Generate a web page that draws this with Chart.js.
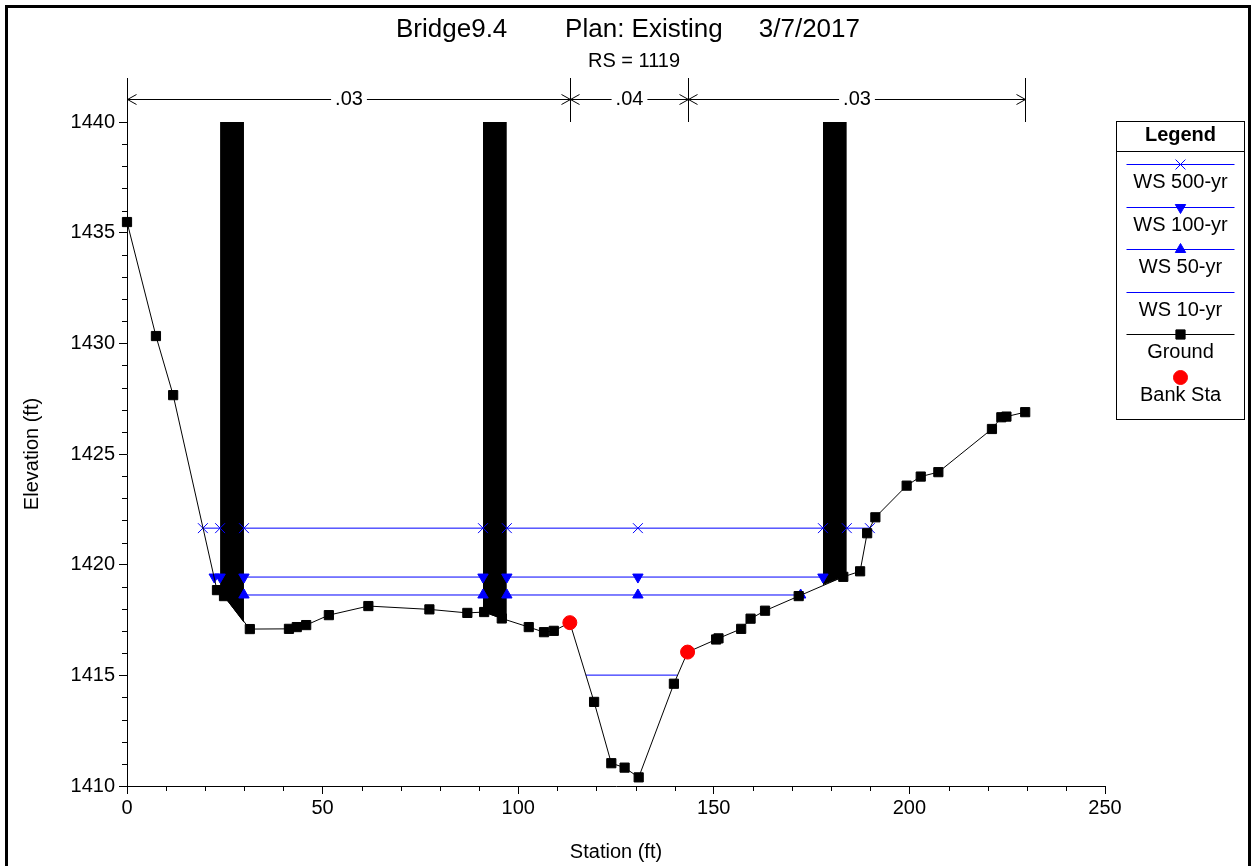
<!DOCTYPE html>
<html>
<head>
<meta charset="utf-8">
<title>Bridge9.4 - RS 1119</title>
<script src="https://cdn.jsdelivr.net/npm/chart.js@4.4.1/dist/chart.umd.min.js"></script>
<style>
  html, body { margin: 0; padding: 0; background: #fff; }
  #wrap { position: relative; width: 1255px; height: 866px; }
</style>
</head>
<body>
<div id="wrap"><canvas id="xsChart"></canvas></div>
<script>
// cross section data (station ft / elevation ft)
const groundSta = [0, 7.4, 11.8, 23.0, 24.8, 31.4, 41.4, 43.4, 45.8, 51.6, 61.7, 77.3, 87.0, 91.3, 95.8,
  102.7, 106.6, 109.1, 113.2, 119.4, 123.8, 127.2, 130.8, 139.8, 143.3, 150.6, 151.2, 157.0, 159.4,
  163.1, 171.7, 183.1, 187.4, 189.2, 191.3, 199.3, 202.9, 207.4, 221.1, 223.5, 224.8, 229.6];
const groundElev = [1435.48, 1430.33, 1427.66, 1418.85, 1418.58, 1417.09, 1417.10, 1417.18, 1417.27, 1417.72,
  1418.13, 1417.98, 1417.82, 1417.86, 1417.57, 1417.18, 1416.95, 1417.01, 1417.38, 1413.80, 1411.03,
  1410.83, 1410.39, 1414.62, 1416.05, 1416.62, 1416.67, 1417.10, 1417.56, 1417.92, 1418.58, 1419.45,
  1419.70, 1421.42, 1422.14, 1423.57, 1423.98, 1424.18, 1426.13, 1426.66, 1426.69, 1426.89];

const bankSta = [113.2, 143.3];
const bankElev = [1417.38, 1416.05];

// water surfaces (null = hidden behind a pier)
const ws500Sta = [19.4, 23.8, 26.8, 29.9, 91.0, 94.0, 97.1, 130.6, 177.9, 181.0, 184.0, 189.9];
const ws500Elev = [1421.65, 1421.65, null, 1421.65, 1421.65, null, 1421.65, 1421.65, 1421.65, null, 1421.65, 1421.65];
const ws100Sta = [22.3, 23.8, 26.8, 29.9, 91.0, 94.0, 97.1, 130.6, 177.9];
const ws100Elev = [1419.44, 1419.44, null, 1419.44, 1419.44, null, 1419.44, 1419.44, 1419.44];
const ws50Sta = [29.9, 91.0, 94.0, 97.1, 130.6, 172.2];
const ws50Elev = [1418.63, 1418.63, null, 1418.63, 1418.63, 1418.63];
const ws10Sta = [117.3, 140.75];
const ws10Elev = [1415.01, 1415.01];

// bridge piers: bottom edge, filled up to the deck
const pierTop = 1440;
const pier1Sta = [23.8, 24.8, 29.9];
const pier1Elev = [1418.73, 1418.58, 1417.40];
const pier2Sta = [91.0, 91.3, 95.8, 97.1];
const pier2Elev = [1417.84, 1417.86, 1417.57, 1417.50];
const pier3Sta = [177.9, 183.1, 184.0];
const pier3Elev = [1419.10, 1419.45, 1419.50];

// Manning's n
const nBreaks = [0, 113.2, 143.3, 229.6];
const nValues = ['.03', '.04', '.03'];

const titleText = 'Bridge9.4        Plan: Existing     3/7/2017';
const subTitle = 'RS = 1119';

const FONT = '"Liberation Sans", Arial, sans-serif';
Chart.defaults.font.family = FONT;
Chart.defaults.font.size = 20;
Chart.defaults.color = '#000';

const pts = (xs, ys) => xs.map((x, i) => ({ x: x, y: ys[i] }));
const BLUE = '#0000ff';

function wsSet(label, xs, ys, style, radius, rotation) {
  return {
    label: label, data: pts(xs, ys), showLine: true, order: 2, clip: false,
    borderColor: BLUE, borderWidth: 1, pointStyle: style, pointRadius: radius, rotation: rotation,
    pointBackgroundColor: BLUE, pointBorderColor: BLUE, pointBorderWidth: 1
  };
}
function pierSet(xs, ys) {
  return {
    data: pts(xs, ys), showLine: true, order: 3, borderColor: '#000', backgroundColor: '#000',
    borderWidth: 1, pointRadius: 0, fill: { value: pierTop }
  };
}

const datasets = [
  wsSet('WS 500-yr', ws500Sta, ws500Elev, 'crossRot', 7, 0),
  wsSet('WS 100-yr', ws100Sta, ws100Elev, 'triangle', 6, 180),
  wsSet('WS 50-yr', ws50Sta, ws50Elev, 'triangle', 6, 0),
  wsSet('WS 10-yr', ws10Sta, ws10Elev, 'circle', 0, 0),
  {
    label: 'Ground', data: pts(groundSta, groundElev), showLine: true, order: 1, clip: false,
    borderColor: '#000', borderWidth: 1, pointStyle: 'rect', pointRadius: 6.5,
    pointBackgroundColor: '#000', pointBorderColor: '#000'
  },
  {
    label: 'Bank Sta', data: pts(bankSta, bankElev), showLine: false, order: 0, clip: false,
    pointStyle: 'circle', pointRadius: 7, pointBackgroundColor: '#ff0000', pointBorderColor: '#ff0000'
  },
  pierSet(pier1Sta, pier1Elev),
  pierSet(pier2Sta, pier2Elev),
  pierSet(pier3Sta, pier3Elev)
];

const decor = {
  id: 'decor',
  afterDraw(chart) {
    const { ctx, chartArea } = chart;
    const x = chart.scales.x, y = chart.scales.y;
    ctx.save();
    ctx.strokeStyle = '#000';
    ctx.fillStyle = '#000';

    // page frame
    ctx.lineWidth = 3;
    ctx.strokeRect(6.5, 6.5, 1243, 900);

    // titles
    ctx.textAlign = 'center';
    ctx.textBaseline = 'middle';
    ctx.font = '26px ' + FONT;
    ctx.fillText(titleText, 628, 30);
    ctx.font = '20px ' + FONT;
    ctx.fillText(subTitle, 634, 61);

    // minor ticks
    ctx.lineWidth = 1;
    ctx.beginPath();
    for (let v = 0; v <= 250; v += 10) {
      if (v % 50 === 0) continue;
      const px = Math.round(x.getPixelForValue(v)) + 0.5;
      ctx.moveTo(px, chartArea.bottom);
      ctx.lineTo(px, chartArea.bottom + 5);
    }
    for (let v = 1410; v <= 1440; v++) {
      if (v % 5 === 0) continue;
      const py = Math.round(y.getPixelForValue(v)) + 0.5;
      ctx.moveTo(chartArea.left - 5, py);
      ctx.lineTo(chartArea.left, py);
    }
    ctx.stroke();

    // n value bars with arrows
    const ay = Math.round(chartArea.top - 23) + 0.5;
    ctx.beginPath();
    nBreaks.forEach(s => {
      const px = Math.round(x.getPixelForValue(s)) + 0.5;
      ctx.moveTo(px, chartArea.top - 44);
      ctx.lineTo(px, chartArea.top);
    });
    for (let i = 0; i < nValues.length; i++) {
      const a = Math.round(x.getPixelForValue(nBreaks[i])) + 0.5;
      const b = Math.round(x.getPixelForValue(nBreaks[i + 1])) + 0.5;
      const mid = (a + b) / 2;
      const half = ctx.measureText(nValues[i]).width / 2 + 4;
      ctx.moveTo(a, ay); ctx.lineTo(mid - half, ay);
      ctx.moveTo(mid + half, ay); ctx.lineTo(b, ay);
      ctx.moveTo(a + 9, ay - 5); ctx.lineTo(a, ay); ctx.lineTo(a + 9, ay + 5);
      ctx.moveTo(b - 9, ay - 5); ctx.lineTo(b, ay); ctx.lineTo(b - 9, ay + 5);
      ctx.fillText(nValues[i], mid, ay);
    }
    ctx.stroke();

    // legend box
    const lx = 1116.5, ly = 121.5, lw = 128, lh = 298, cx = lx + lw / 2;
    ctx.strokeRect(lx, ly, lw, lh);
    ctx.beginPath();
    ctx.moveTo(lx, 151.5); ctx.lineTo(lx + lw, 151.5);
    ctx.stroke();
    ctx.font = 'bold 20px ' + FONT;
    ctx.fillText('Legend', cx, 135);
    ctx.font = '20px ' + FONT;
    const items = chart.data.datasets.filter(d => d.label);
    items.forEach((d, i) => {
      const iy = Math.round(164 + i * 42.6) + 0.5;
      if (d.showLine) {
        ctx.strokeStyle = d.borderColor;
        ctx.lineWidth = d.borderWidth;
        ctx.beginPath();
        ctx.moveTo(lx + 10, iy); ctx.lineTo(lx + lw - 10, iy);
        ctx.stroke();
      }
      if (d.pointRadius > 0) {
        ctx.fillStyle = d.pointBackgroundColor;
        ctx.strokeStyle = d.pointBorderColor;
        ctx.lineWidth = 1;
        Chart.helpers.drawPoint(ctx, {
          pointStyle: d.pointStyle, radius: d.pointRadius, rotation: d.rotation || 0, borderWidth: 1
        }, cx, iy);
      }
      ctx.fillStyle = '#000';
      ctx.fillText(d.label, cx, iy + 18);
    });
    ctx.restore();
  }
};

new Chart(document.getElementById('xsChart'), {
  type: 'scatter',
  data: { datasets: datasets },
  options: {
    responsive: true,
    maintainAspectRatio: false,
    animation: false,
    layout: { padding: { top: 122, right: 150, left: 10, bottom: 0 } },
    plugins: { legend: { display: false }, tooltip: { enabled: false } },
    scales: {
      x: {
        type: 'linear', min: 0, max: 250,
        ticks: { stepSize: 50, padding: 2, maxRotation: 0, callback: v => String(v) },
        grid: { drawOnChartArea: false, tickLength: 8, tickColor: '#000', color: '#000' },
        border: { color: '#000', width: 1 },
        title: { display: true, text: 'Station (ft)', padding: { top: 0, bottom: 2 } },
        afterFit(s) { s.height = 80; }
      },
      y: {
        type: 'linear', min: 1410, max: 1440,
        ticks: { stepSize: 5, padding: 4, callback: v => String(v) },
        grid: { drawOnChartArea: false, tickLength: 8, tickColor: '#000', color: '#000' },
        border: { color: '#000', width: 1 },
        title: { display: true, text: 'Elevation (ft)', padding: { top: 10, bottom: 0 } },
        afterFit(s) { s.width = 117; }
      }
    }
  },
  plugins: [decor]
});
</script>
</body>
</html>
